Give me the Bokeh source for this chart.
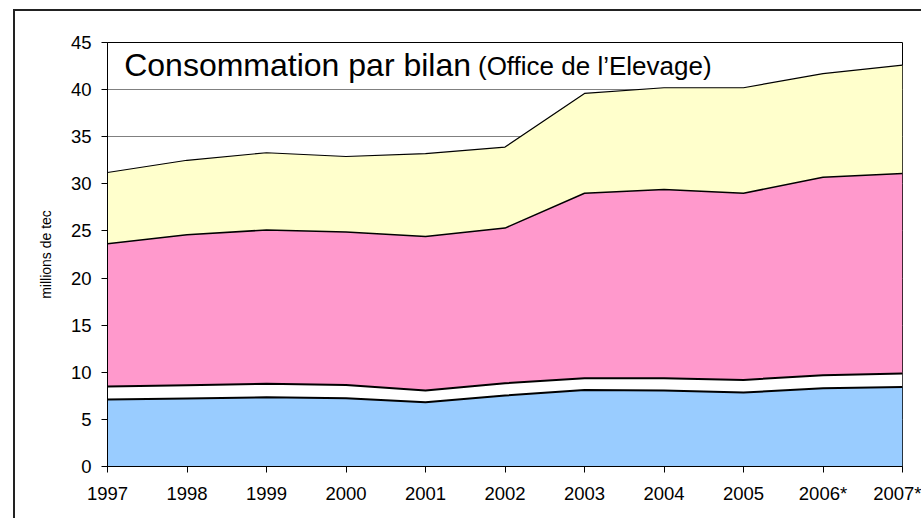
from bokeh.plotting import figure
from bokeh.models import ColumnDataSource, FixedTicker, Range1d, Label
from bokeh.embed import file_html
from bokeh.resources import INLINE

# ---- data (millions de tec) ----
years = [1997, 1998, 1999, 2000, 2001, 2002, 2003, 2004, 2005, 2006, 2007]
year_labels = ["1997", "1998", "1999", "2000", "2001", "2002", "2003", "2004", "2005", "2006*", "2007*"]
serie_bleue = [7.1, 7.22, 7.35, 7.24, 6.82, 7.53, 8.13, 8.06, 7.85, 8.3, 8.45]
serie_blanche = [1.38, 1.40, 1.42, 1.42, 1.24, 1.30, 1.23, 1.30, 1.34, 1.38, 1.41]
serie_rose = [15.17, 15.98, 16.33, 16.24, 16.34, 16.47, 19.64, 20.04, 19.81, 21.02, 21.24]
serie_jaune = [7.55, 7.9, 8.2, 8.0, 8.8, 8.6, 10.6, 10.8, 11.2, 11.0, 11.5]
y_ticks = [0, 5, 10, 15, 20, 25, 30, 35, 40, 45]

title_main = "Consommation par bilan"
title_sub = "(Office de l\u2019Elevage)"
y_title = "millions de tec"

FONT = "Liberation Sans"

src = ColumnDataSource(dict(x=years, bleu=serie_bleue, blanc=serie_blanche,
                            rose=serie_rose, jaune=serie_jaune))
stackers = ["bleu", "blanc", "rose", "jaune"]
colors = ["#99CCFF", "#FFFFFF", "#FF99CC", "#FFFFCC"]

# outer chart frame: left/top border of the figure element (right/bottom cut off)
frame_css = {"margin-left": "13px", "margin-top": "9px",
             "border-left": "2px solid #222222", "border-top": "2px solid #222222"}

p = figure(width=908, height=509, output_backend="svg", toolbar_location=None,
           x_range=Range1d(years[0], years[-1]), y_range=Range1d(0, 45),
           min_border_left=92, min_border_right=21, min_border_top=31, min_border_bottom=54,
           styles=frame_css)

p.varea_stack(stackers=stackers, x="x", color=colors, source=src)
p.vline_stack(stackers=stackers, x="x", color="black", line_width=[2, 2, 1.5, 1.2], source=src)

# axes
p.xaxis.ticker = FixedTicker(ticks=years)
p.xaxis.major_label_overrides = {y: lab for y, lab in zip(years, year_labels)}
p.yaxis.ticker = FixedTicker(ticks=y_ticks)
for ax in (p.xaxis[0], p.yaxis[0]):
    ax.axis_line_color = "black"
    ax.axis_line_width = 1
    ax.major_tick_line_color = "black"
    ax.major_tick_out = 6
    ax.major_tick_in = 0
    ax.minor_tick_line_color = None
    ax.major_label_text_font = FONT
    ax.major_label_text_font_size = "18.5px"
    ax.major_label_text_color = "black"
    ax.major_label_standoff = 10
p.yaxis.axis_label = y_title
p.yaxis.axis_label_text_font = FONT
p.yaxis.axis_label_text_font_size = "14px"
p.yaxis.axis_label_text_font_style = "normal"
p.yaxis.axis_label_text_color = "black"
p.yaxis.axis_label_standoff = 14

p.xgrid.grid_line_color = None
p.ygrid.grid_line_color = "#808080"
p.ygrid.grid_line_width = 1

p.outline_line_color = "black"
p.outline_line_width = 1
p.background_fill_color = "white"
p.border_fill_color = "white"

# title inside plot area
p.add_layout(Label(x=1997.21, y=42.59, text=title_main, text_font=FONT, text_font_size="32px",
                   text_color="black", text_baseline="alphabetic"))
p.add_layout(Label(x=2001.66, y=42.46, text=title_sub, text_font=FONT, text_font_size="26px",
                   text_color="black", text_baseline="alphabetic"))

open("out.html", "w").write(file_html(p, INLINE))
